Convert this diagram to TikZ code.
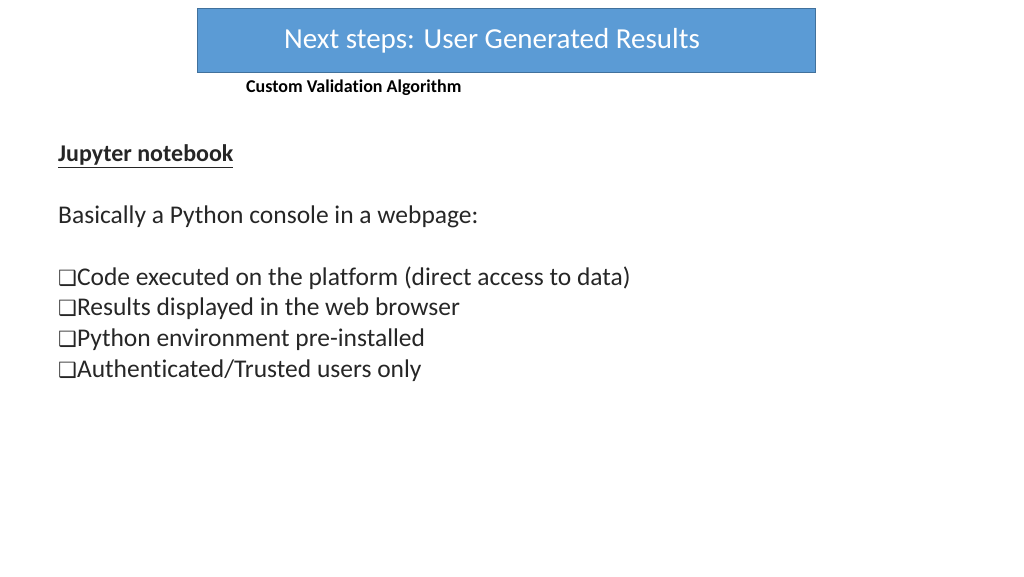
\documentclass[tikz,border=0pt]{standalone}
\usepackage{fontspec}
\setmainfont{Carlito}[RawFeature=-liga]
\newfontfamily\symf{DejaVu Sans}
\definecolor{tfill}{RGB}{91,155,213}
\definecolor{tline}{RGB}{65,113,156}
\begin{document}
\begin{tikzpicture}[x=1pt,y=-1pt,
  body/.style={anchor=west,inner sep=0pt,font=\fontsize{25.5}{29}\selectfont,text=black!85}]
\useasboundingbox (0,0) rectangle (1024,576);
\node[draw=tline,fill=tfill,line width=0.8pt,
  minimum width=618pt,minimum height=64pt,anchor=north west,inner sep=0pt] (title) at (197,8) {};
\node[text=white,font=\fontsize{29}{33}\selectfont] (tt) at (492,41) {Next steps: User Generated Results};
\node[anchor=west,inner sep=0pt,font=\bfseries\fontsize{18}{21}\selectfont] (sub) at (246,88) {Custom Validation Algorithm};
\node[body,font=\bfseries\fontsize{24}{28}\selectfont] (jn) at (58,156) {\underline{Jupyter notebook}};
\node[body] (b0) at (58,217) {Basically a Python console in a webpage:};
\node[body] (b1) at (58,278) {{\symf\fontsize{21}{24}\selectfont ❑}Code executed on the platform (direct access to data)};
\node[body] (b2) at (58,309) {{\symf\fontsize{21}{24}\selectfont ❑}Results displayed in the web browser};
\node[body] (b3) at (58,340) {{\symf\fontsize{21}{24}\selectfont ❑}Python environment pre-installed};
\node[body] (b4) at (58,371) {{\symf\fontsize{21}{24}\selectfont ❑}Authenticated/Trusted users only};
\end{tikzpicture}
\end{document}
